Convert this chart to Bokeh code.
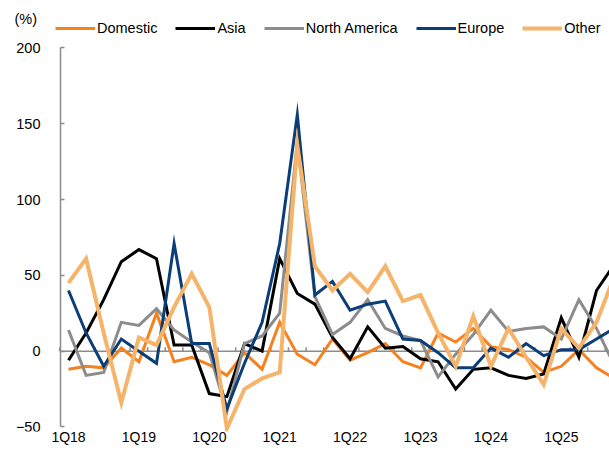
from bokeh.plotting import figure
from bokeh.models import Legend, LegendItem, FixedTicker, Label, LinearAxis
from bokeh.embed import file_html
from bokeh.resources import INLINE

quarters = ["1Q18", "2Q18", "3Q18", "4Q18", "1Q19", "2Q19", "3Q19", "4Q19",
            "1Q20", "2Q20", "3Q20", "4Q20", "1Q21", "2Q21", "3Q21", "4Q21",
            "1Q22", "2Q22", "3Q22", "4Q22", "1Q23", "2Q23", "3Q23", "4Q23",
            "1Q24", "2Q24", "3Q24", "4Q24", "1Q25", "2Q25", "3Q25", "4Q25"]

domestic = [-12, -10, -11, 2, -7, 25, -7, -4, -9, -16, -1, -12, 19, -2, -9, 8,
            -6, -1, 5, -7, -11, 12, 6, 15, 3, 1, -4, -14, -10, 1, -11, -18]
asia = [-6, 12, 34, 59, 67, 61, 4, 4, -28, -30, 5, 0, 61, 38, 31, 9,
        -5, 16, 2, 3, -5, -7, -25, -12, -11, -16, -18, -15, 22, -4, 40, 57]
north_america = [14, -16, -14, 19, 17, 28, 14, 6, -1, -40, 5, 10, 25, 138, 36, 11,
                 19, 34, 15, 10, 7, -17, -2, 11, 27, 13, 15, 16, 8, 34, 15, -9]
europe = [40, 12, -10, 8, 0, -8, 71, 5, 5, -38, -8, 19, 71, 156, 37, 46,
          27, 31, 33, 8, 7, -1, -11, -11, 2, -4, 5, -3, 1, 1, 8, 15]
other = [45, 61, 12, -34, 9, 4, 29, 51, 29, -51, -25, -18, -14, 136, 56, 40,
         51, 39, 56, 33, 37, 12, -10, 23, -10, 15, -4, -22, 15, 2, 19, 49]

series_names = ["Domestic", "Asia", "North America", "Europe", "Other"]
series_colors = ["#F5821F", "#000000", "#8C8C8C", "#0B3D78", "#F5B469"]
y_ticks = [-50, 0, 50, 100, 150, 200]

FONT = "Liberation Sans"
AXIS_GRAY = "#8C8C8C"

W, H = 609, 459
BORDER_BOTTOM = 28
FRAME_H = H - BORDER_BOTTOM
PX_X = 17.6                 # pixels per quarter
PX_Y = 379 / 250.0          # pixels per percentage point
FIRST_X = 68                # pixel of first quarter
AXIS_PX = 60                # pixel of the value axis

x = list(range(len(quarters)))
x_start = -FIRST_X / PX_X
x_end = (W - FIRST_X) / PX_X
y_start = y_ticks[0] - 3
y_end = y_start + FRAME_H / PX_Y
y_axis_x = (AXIS_PX - FIRST_X) / PX_X

p = figure(width=W, height=H, output_backend="svg", toolbar_location=None,
           x_range=(x_start, x_end), y_range=(y_start, y_end),
           y_axis_location=None,
           min_border_left=0, min_border_right=0, min_border_top=0,
           min_border_bottom=BORDER_BOTTOM)
p.outline_line_color = None
p.xgrid.visible = False
p.ygrid.visible = False
p.background_fill_color = "white"
p.border_fill_color = "white"

# bottom axis: labels only
xa = p.xaxis[0]
xa.ticker = FixedTicker(ticks=[i for i, q in enumerate(quarters) if q.startswith("1Q")])
xa.major_label_overrides = {i: q for i, q in enumerate(quarters) if q.startswith("1Q")}
xa.axis_line_color = None
xa.major_tick_line_color = None
xa.minor_tick_line_color = None
xa.major_tick_in = 0
xa.major_tick_out = 0
xa.major_label_standoff = -3
xa.major_label_text_font = FONT
xa.major_label_text_font_size = "14px"
xa.major_label_text_color = "#000000"

# value axis at a fixed location
ya = LinearAxis(fixed_location=y_axis_x, bounds=(y_ticks[0], y_ticks[-1]),
                ticker=FixedTicker(ticks=y_ticks))
ya.axis_line_color = AXIS_GRAY
ya.axis_line_width = 1.5
ya.major_tick_line_color = AXIS_GRAY
ya.major_tick_line_width = 1.5
ya.major_tick_in = 4
ya.major_tick_out = 0
ya.minor_tick_line_color = None
ya.major_label_standoff = 20
ya.major_label_text_font = FONT
ya.major_label_text_font_size = "14.5px"
ya.major_label_text_color = "#000000"
p.add_layout(ya, "left")

# zero line with category-boundary ticks
p.segment(x0=[y_axis_x], y0=[0], x1=[x_end], y1=[0],
          line_color=AXIS_GRAY, line_width=1.5, level="underlay")
bounds = [i - 0.5 for i in x] + [x[-1] + 0.5]
p.segment(x0=bounds, y0=[0] * len(bounds), x1=bounds, y1=[4 / PX_Y] * len(bounds),
          line_color=AXIS_GRAY, line_width=1.5, level="underlay")

items = []
widths = [3, 3, 3, 3, 4]
for name, data, color, w in zip(series_names,
                                [domestic, asia, north_america, europe, other],
                                series_colors, widths):
    r = p.line(x, data, line_color=color, line_width=w, line_join="miter")
    items.append(LegendItem(label=name, renderers=[r]))

legend = Legend(items=items, orientation="horizontal", location=(55, FRAME_H - 36),
                glyph_width=40, glyph_height=16, label_standoff=2, spacing=18,
                padding=0, margin=0, border_line_color=None,
                background_fill_alpha=0, label_text_font=FONT,
                label_text_font_size="14.5px", label_text_color="#000000",
                label_height=16)
p.add_layout(legend)

p.add_layout(Label(x=14, y=FRAME_H - 18, x_units="screen", y_units="screen", text="(%)",
                   text_baseline="middle", text_font=FONT,
                   text_font_size="14.5px", text_color="#000000"))

open("out.html", "w").write(file_html(p, INLINE))
